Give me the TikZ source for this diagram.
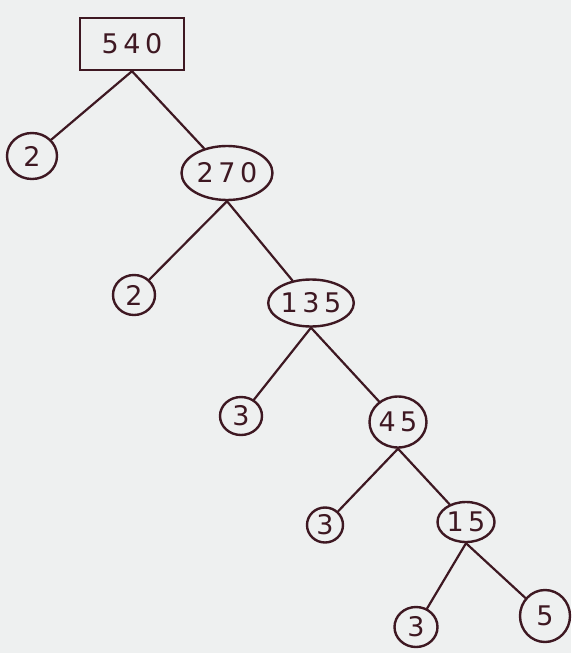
\documentclass[tikz,border=0pt]{standalone}
\usepackage{fontspec}
\setsansfont{DejaVu Sans}
\usetikzlibrary{shapes.geometric}
\definecolor{ink}{RGB}{62,24,34}
\definecolor{paper}{RGB}{238,240,240}
\tikzset{
  num/.style={draw=ink, text=ink, line width=2.4pt, inner sep=0pt,
              font=\sffamily\fontsize{27}{27}\selectfont},
  leaf/.style={num, ellipse},
  branch/.style={draw=ink, line width=2.2pt, line cap=round}
}
\begin{document}
\begin{tikzpicture}[x=1pt, y=-1pt]
  \fill[paper] (0,0) rectangle (571,653);
  \useasboundingbox (0,0) rectangle (571,653);

  % root of the factor tree
  \node[num, rectangle, minimum width=104pt, minimum height=52pt] (n540) at (132,44) {5\,4\,0};

  \node[leaf, minimum width=50pt, minimum height=46pt] (a2)   at (32,156)  {2};
  \node[leaf, minimum width=91pt, minimum height=54pt] (n270) at (227,173) {2\,7\,0};

  \node[leaf, minimum width=42pt, minimum height=40pt] (b2)   at (134,295) {2};
  \node[leaf, minimum width=80pt, minimum height=47pt] (n135) at (311,303) {1\,3\,5};

  \node[leaf, minimum width=42pt, minimum height=38pt] (c3)   at (241,416) {3};
  \node[leaf, minimum width=57pt, minimum height=51pt] (n45)  at (398,422) {4\,5};

  \node[leaf, minimum width=36pt, minimum height=35pt] (d3)   at (325,525) {3};
  \node[leaf, minimum width=57pt, minimum height=40pt] (n15)  at (466,522) {1\,5};

  \node[leaf, minimum width=43pt, minimum height=40pt] (e3)   at (416,627) {3};
  \node[leaf, minimum width=50pt, minimum height=52pt] (e5)   at (545,616) {5};

  % branches
  \draw[branch] (n540.south) -- (a2);
  \draw[branch] (n540.south) -- (n270);
  \draw[branch] (n270.south) -- (b2);
  \draw[branch] (n270.south) -- (n135);
  \draw[branch] (n135.south) -- (c3);
  \draw[branch] (n135.south) -- (n45);
  \draw[branch] (n45.south)  -- (d3);
  \draw[branch] (n45.south)  -- (n15);
  \draw[branch] (n15.south)  -- (e3);
  \draw[branch] (n15.south)  -- (e5);
\end{tikzpicture}
\end{document}
